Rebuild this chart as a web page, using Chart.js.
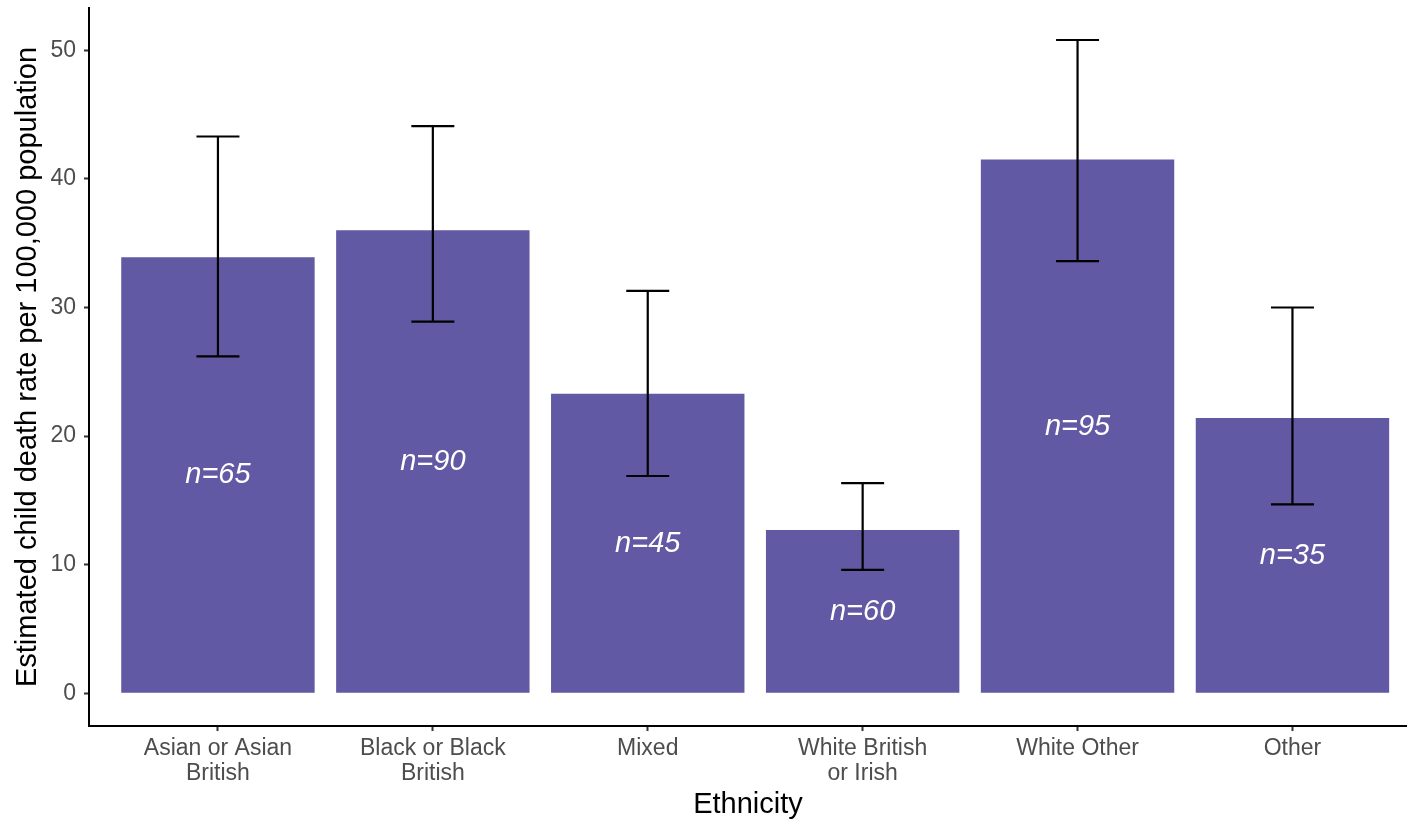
<!DOCTYPE html>
<html>
<head>
<meta charset="utf-8">
<title>Estimated child death rate by ethnicity</title>
<script src="https://cdn.jsdelivr.net/npm/chart.js@4.4.1/dist/chart.umd.min.js"></script>
<style>
  html, body { margin: 0; padding: 0; background: #ffffff; }
  #wrap { width: 1407px; height: 819px; }
</style>
</head>
<body>
<div id="wrap"><canvas id="chart" width="1407" height="819"></canvas></div>
<script>
// Ethnic groups along the x axis (tick labels split over lines)
const categories = [
  ["Asian or Asian", "British"],
  ["Black or Black", "British"],
  "Mixed",
  ["White British", "or Irish"],
  "White Other",
  "Other"
];
// Estimated child death rate per 100,000 population
const rates = [33.9, 36.0, 23.3, 12.7, 41.5, 21.4];
// Confidence interval bounds
const lowerCI = [26.2, 28.9, 16.9, 9.6, 33.6, 14.7];
const upperCI = [43.3, 44.1, 31.3, 16.35, 50.8, 30.0];
// Number of deaths in each group
const counts = [65, 90, 45, 60, 95, 35];
// Y axis tick values
const yTicks = [0, 10, 20, 30, 40, 50];

const FONT = "'Liberation Sans', Arial, sans-serif";
const BAR_COLOUR = "#6159a3";

// Vertical error bars with caps, drawn after the bars
const errorBars = {
  id: "errorBars",
  afterDatasetsDraw(chart) {
    const { ctx, scales: { x, y } } = chart;
    ctx.save();
    ctx.strokeStyle = "#000000";
    ctx.lineWidth = 2.2;
    ctx.lineCap = "butt";
    lowerCI.forEach((lo, i) => {
      const cx = x.getPixelForValue(i);
      const half = x.getPixelForValue(i + 0.1) - cx;
      const yl = y.getPixelForValue(lo);
      const yu = y.getPixelForValue(upperCI[i]);
      ctx.beginPath();
      ctx.moveTo(cx, yu); ctx.lineTo(cx, yl);
      ctx.moveTo(cx - half, yu); ctx.lineTo(cx + half, yu);
      ctx.moveTo(cx - half, yl); ctx.lineTo(cx + half, yl);
      ctx.stroke();
    });
    ctx.restore();
  }
};

// "n=" count labels placed halfway up each bar
const countLabels = {
  id: "countLabels",
  afterDatasetsDraw(chart) {
    const { ctx, scales: { x, y } } = chart;
    ctx.save();
    ctx.fillStyle = "#ffffff";
    ctx.font = "italic 29px " + FONT;
    ctx.textAlign = "center";
    ctx.textBaseline = "middle";
    counts.forEach((n, i) => {
      ctx.fillText("n=" + n, x.getPixelForValue(i), y.getPixelForValue(rates[i] / 2));
    });
    ctx.restore();
  }
};

new Chart(document.getElementById("chart"), {
  type: "bar",
  data: {
    datasets: [{
      data: rates.map((v, i) => ({ x: i, y: v })),
      backgroundColor: BAR_COLOUR,
      borderWidth: 0,
      categoryPercentage: 0.9,
      barPercentage: 1.0
    }]
  },
  options: {
    responsive: false,
    animation: false,
    layout: { padding: { top: 8, right: 0, left: 0, bottom: 0 } },
    plugins: {
      legend: { display: false },
      tooltip: { enabled: false }
    },
    scales: {
      x: {
        type: "linear",
        offset: false,
        min: -0.6,
        max: 5.533,
        afterBuildTicks(scale) {
          scale.ticks = categories.map((c, i) => ({ value: i }));
        },
        afterFit(scale) {
          scale.height = 93;
          scale.paddingLeft = 0;
          scale.paddingRight = 0;
        },
        ticks: {
          autoSkip: false,
          maxRotation: 0,
          color: "#4d4d4d",
          font: { family: FONT, size: 23, lineHeight: 1.1 },
          padding: 5,
          callback: (v, i) => categories[i]
        },
        grid: {
          display: true,
          offset: false,
          drawOnChartArea: false,
          drawTicks: true,
          tickLength: 5,
          tickWidth: 2,
          tickColor: "#333333"
        },
        border: { display: true, color: "#000000", width: 2 },
        title: {
          display: true,
          text: "Ethnicity",
          color: "#000000",
          font: { family: FONT, size: 29, lineHeight: 1.0 },
          padding: { top: 0, bottom: 0 }
        }
      },
      y: {
        type: "linear",
        min: -2.54,
        max: 53.29,
        afterBuildTicks(scale) {
          scale.ticks = yTicks.map(v => ({ value: v }));
        },
        afterFit(scale) {
          scale.width = 89;
          scale.paddingTop = 0;
          scale.paddingBottom = 0;
        },
        ticks: {
          color: "#4d4d4d",
          font: { family: FONT, size: 23 },
          padding: 8
        },
        grid: {
          display: true,
          drawOnChartArea: false,
          drawTicks: true,
          tickLength: 5,
          tickWidth: 2,
          tickColor: "#333333"
        },
        border: { display: true, color: "#000000", width: 2 },
        title: {
          display: true,
          text: "Estimated child death rate per 100,000 population",
          color: "#000000",
          font: { family: FONT, size: 29, lineHeight: 1.2 },
          padding: { top: 11, bottom: 0 }
        }
      }
    }
  },
  plugins: [errorBars, countLabels]
});
</script>
</body>
</html>
